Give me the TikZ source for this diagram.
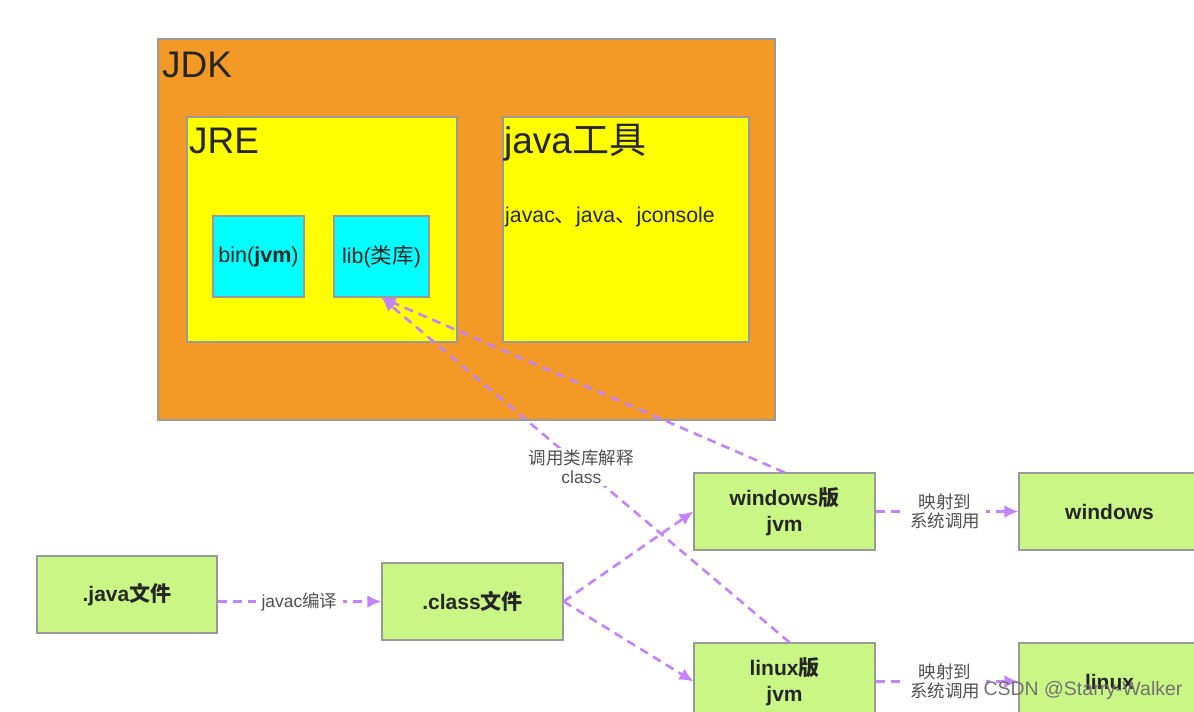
\documentclass[tikz,border=0pt]{standalone}
\usepackage{fontspec}
\setmainfont{Liberation Sans}
\newfontfamily\cjk{Noto Sans CJK SC}
\usetikzlibrary{arrows.meta}
\newcommand{\zh}[1]{{\cjk #1}}
\definecolor{jdkorange}{HTML}{F39A26}
\definecolor{jreyellow}{HTML}{FFFF00}
\definecolor{libcyan}{HTML}{00FFFF}
\definecolor{boxgreen}{HTML}{C9F684}
\definecolor{edgegray}{HTML}{9A9A9A}
\definecolor{linkpurple}{HTML}{C483FA}
\definecolor{txtdark}{HTML}{262626}
\definecolor{lbltxt}{HTML}{505050}
\begin{document}
\begin{tikzpicture}[x=1pt,y=-1pt,
  region/.style={draw=edgegray, line width=1.2pt, inner sep=0pt, rectangle},
  title/.style={font=\fontsize{37}{40}\selectfont, text=txtdark, inner sep=0pt},
  small/.style={region, fill=libcyan, minimum width=#1, minimum height=81pt, font=\fontsize{21.5}{24}\selectfont, text=txtdark},
  gbox/.style={region, fill=boxgreen, minimum width=181pt, minimum height=77pt, font=\fontsize{21}{26}\selectfont\bfseries, text=txtdark, align=center},
  link/.style={draw=linkpurple, line width=2.6pt, dash pattern=on 9pt off 6pt},
  tip/.style={-{Latex[length=14pt,width=13pt]}},
  lbl/.style={fill=white, inner xsep=6pt, inner ysep=2pt, font=\fontsize{17.5}{19}\selectfont, text=lbltxt, align=center}]
\useasboundingbox (0,0) rectangle (1194,712);
\clip (0,0) rectangle (1194,712);
\fill[white] (0,0) rectangle (1194,712);
% JDK
\node[region, fill=jdkorange, minimum width=617pt, minimum height=381pt] (jdk) at (466.5,229.5) {};
\node[title, anchor=base west] (jdkt) at (162,77) {JDK};
% JRE
\node[region, fill=jreyellow, minimum width=270pt, minimum height=225pt] (jre) at (322,229.5) {};
\node[title, anchor=base west] (jret) at (189,153) {JRE};
% tools
\node[region, fill=jreyellow, minimum width=246pt, minimum height=225pt] (tools) at (626,229.5) {};
\node[title, anchor=base west] (toolst) at (504,153) {java\zh{工具}};
\node[anchor=base west, inner sep=0pt, font=\fontsize{21.3}{24}\selectfont, text=txtdark] (toolsl) at (505,222) {javac\zh{、}java\zh{、}jconsole};
% bin, lib
\node[small=91pt] (bin) at (258.5,256.5) {bin(\textbf{jvm})};
\node[small=95pt] (lib) at (381.5,256.5) {lib(\zh{类库})};
% bottom flow
\node[gbox, minimum width=180pt] (javaf) at (127,594.5) {.java\zh{文件}};
\node[gbox] (classf) at (472.5,601.5) {.class\zh{文件}};
\node[gbox] (winjvm) at (784.5,511.5) {windows\zh{版}\\jvm};
\node[gbox] (linjvm) at (784.5,681.5) {linux\zh{版}\\jvm};
\node[gbox] (win) at (1109.5,511.5) {windows};
\node[gbox] (lin) at (1109.5,681.5) {linux};
% connectors
\draw[link, tip] (javaf.east |- classf.west) -- node[lbl] (l1) {javac\zh{编译}} (classf.west);
\draw[link, tip] (classf.east) -- (winjvm.west);
\draw[link, tip] (classf.east) -- (linjvm.west);
\draw[link, tip] (winjvm.east) -- node[lbl, xshift=-2pt] (l2) {\zh{映射到}\\\zh{系统调用}} (win.west);
\draw[link, tip] (linjvm.east) -- node[lbl, xshift=-2pt] (l3) {\zh{映射到}\\\zh{系统调用}} (lin.west);
\draw[link, tip] (winjvm.north) -- (lib.south);
\draw[link, tip] ([xshift=5pt]linjvm.north) -- node[lbl, pos=0.51] (l4) {\zh{调用类库解释}\\class} (lib.south);
% watermark
\node[inner sep=0pt, font=\fontsize{19.5}{20}\selectfont, text=black!55] (wm2) at (1083,690) {CSDN @Starry-Walker};
\end{tikzpicture}
\end{document}
